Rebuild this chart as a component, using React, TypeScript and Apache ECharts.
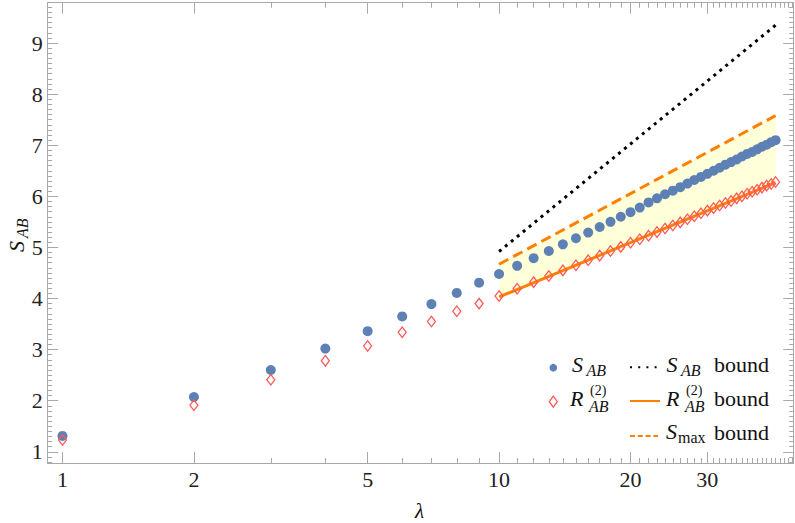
import React, { useEffect, useRef } from "react";
import * as echarts from "echarts";

// ---- data ----
const lambdas = [1, 2, 3, 4, 5, 6, 7, 8, 9, 10, 11, 12, 13, 14, 15, 16, 17, 18, 19, 20, 21, 22, 23, 24, 25, 26, 27, 28, 29, 30, 31, 32, 33, 34, 35, 36, 37, 38, 39, 40, 41, 42, 43];
const sAB = [1.31, 2.07, 2.6, 3.02, 3.36, 3.65, 3.89, 4.11, 4.31,
  4.48, 4.64, 4.79, 4.93, 5.06, 5.18, 5.29, 5.4, 5.5, 5.6, 5.69, 5.78,
  5.88, 5.96, 6.04, 6.11, 6.18,
  6.25, 6.32, 6.38, 6.44, 6.5, 6.56, 6.62, 6.67, 6.72, 6.78, 6.83, 6.87, 6.92, 6.97, 7.01, 7.06, 7.1];
const rAB = [1.23, 1.91, 2.41, 2.78, 3.07, 3.34, 3.55, 3.75, 3.9,
  4.05, 4.19, 4.32, 4.44, 4.55, 4.65, 4.75, 4.84, 4.93, 5.01, 5.09, 5.16,
  5.23, 5.3, 5.37, 5.43, 5.49,
  5.55, 5.61, 5.67, 5.72, 5.77, 5.82, 5.87, 5.91, 5.96, 6.0, 6.05, 6.09, 6.13, 6.17, 6.21, 6.24, 6.28];

const boundLambda = [10, 43];
const sABBound = [4.92, 9.35];
const rABBound = [4.03, 6.27];
const sMaxBound = [4.67, 7.58];

const xMajorTicks = [1, 2, 5, 10, 20, 30];
const xMinorTicks = [3, 4, 6, 7, 8, 9, 11, 12, 13, 14, 15, 16, 17, 18, 19, 21, 22, 23, 24, 25, 26, 27, 28, 29,
  31, 32, 33, 34, 35, 36, 37, 38, 39, 40, 41, 42, 43, 44, 45, 46, 47];
const yMajorTicks = [1, 2, 3, 4, 5, 6, 7, 8, 9];
const yMinorTicks: number[] = [];
for (let i = 8; i <= 97; i++) {
  if (i % 10 !== 0) yMinorTicks.push(i / 10);
}

const X_MIN = 0.925;
const X_MAX = 47.3;
const Y_MIN = 0.78;
const Y_MAX = 9.79;

const FRAME = "#A8A8A8";
const FONT = "'Liberation Serif', 'Times New Roman', serif";
const BLUE = "#5E81B5";
const RED = "#FF5858";
const ORANGE = "#FF8000";
const YELLOW = "#FFFFD9";

const labelStyle = {
  fontSize: 22,
  fontFamily: FONT,
  color: "#222",
};

function xAx(position: string, ticks: number[], len: number, labels: boolean, line: boolean) {
  return {
    type: "log",
    logBase: 10,
    min: X_MIN,
    max: X_MAX,
    position,
    axisLine: { show: line, onZero: false, lineStyle: { color: FRAME, width: 1 } },
    axisTick: { show: true, inside: true, length: len, customValues: ticks, lineStyle: { color: FRAME, width: 1 } },
    axisLabel: labels
      ? { show: true, customValues: ticks, margin: 5, ...labelStyle, formatter: (v: number) => String(Math.round(v)) }
      : { show: false },
    splitLine: { show: false },
    minorTick: { show: false },
    minorSplitLine: { show: false },
  };
}

function yAx(position: string, ticks: number[], len: number, labels: boolean, line: boolean) {
  return {
    type: "value",
    min: Y_MIN,
    max: Y_MAX,
    position,
    axisLine: { show: line, onZero: false, lineStyle: { color: FRAME, width: 1 } },
    axisTick: { show: true, inside: true, length: len, customValues: ticks, lineStyle: { color: FRAME, width: 1 } },
    axisLabel: labels
      ? { show: true, customValues: ticks, margin: 5, ...labelStyle, formatter: (v: number) => String(Math.round(v)) }
      : { show: false },
    splitLine: { show: false },
    minorTick: { show: false },
    minorSplitLine: { show: false },
  };
}

function txt(text: string, x: number, baseline: number, size: number, italic: boolean) {
  return {
    type: "text",
    x,
    y: baseline - 0.34 * size,
    silent: true,
    z: 100,
    style: {
      text,
      fontSize: size,
      fontFamily: FONT,
      fontStyle: italic ? "italic" : "normal",
      fill: "#111",
      textAlign: "left",
      textVerticalAlign: "middle",
      align: "left",
      verticalAlign: "middle",
    },
  };
}

function legendGraphics() {
  const g: any[] = [];
  // column 1
  g.push({ type: "circle", z: 100, shape: { cx: 553.3, cy: 367.7, r: 3.8 }, style: { fill: BLUE }, silent: true });
  g.push(txt("S", 572, 372, 22, true));
  g.push(txt("AB", 586.5, 375.5, 16, true));
  g.push({
    type: "polygon",
    z: 100,
    shape: { points: [[553.3, 396.2], [557.3, 401.7], [553.3, 407.2], [549.3, 401.7]] },
    style: { fill: "none", stroke: RED, lineWidth: 1.3 },
    silent: true,
  });
  g.push(txt("R", 570, 406, 22, true));
  g.push(txt("(2)", 590, 395.5, 14, false));
  g.push(txt("AB", 589, 412, 16, true));
  // column 2
  g.push({ type: "line", z: 100, shape: { x1: 630, y1: 367.3, x2: 658, y2: 367.3 }, style: { stroke: "#000", lineWidth: 2, lineDash: [2, 6.2] }, silent: true });
  g.push(txt("S", 666.5, 372, 22, true));
  g.push(txt("AB", 681, 375.5, 16, true));
  g.push(txt("bound", 714, 371.5, 22, false));
  g.push({ type: "line", z: 100, shape: { x1: 630, y1: 401, x2: 660, y2: 401 }, style: { stroke: ORANGE, lineWidth: 2 }, silent: true });
  g.push(txt("R", 666, 406, 22, true));
  g.push(txt("(2)", 686, 395.5, 14, false));
  g.push(txt("AB", 685, 412, 16, true));
  g.push(txt("bound", 714, 406, 22, false));
  g.push({ type: "line", z: 100, shape: { x1: 630, y1: 436, x2: 658, y2: 436 }, style: { stroke: ORANGE, lineWidth: 2, lineDash: [5, 2.8] }, silent: true });
  g.push(txt("S", 666, 439, 22, true));
  g.push(txt("max", 678, 443, 16, false));
  g.push(txt("bound", 714, 440, 22, false));
  // axis titles
  g.push(txt("λ", 415, 518.5, 21, true));
  g.push({
    type: "group",
    x: 24,
    y: 252,
    rotation: Math.PI / 2,
    silent: true,
    z: 100,
    children: [txt("S", 0, 0, 22, true), txt("AB", 14, 3.5, 16, true)],
  });
  return g;
}

export default function App() {
  const ref = useRef<HTMLDivElement>(null);
  useEffect(() => {
    if (!ref.current) return;
    const chart = echarts.init(ref.current, null, { renderer: "svg" });
    const pts = (xs: number[], ys: number[]) => xs.map((x, i) => [x, ys[i]]);
    chart.setOption({
      animation: false,
      backgroundColor: "#fff",
      textStyle: { fontFamily: FONT, fontSize: 22 },
      grid: { left: 47.7, right: 1.3, top: 2.7, bottom: 60, containLabel: false, outerBoundsMode: "none" },
      xAxis: [
        xAx("bottom", xMajorTicks, 11, true, true),
        xAx("bottom", xMinorTicks, 5, false, false),
        xAx("top", xMajorTicks, 11, false, true),
        xAx("top", xMinorTicks, 5, false, false),
      ],
      yAxis: [
        yAx("left", yMajorTicks, 10.5, true, true),
        yAx("left", yMinorTicks, 4.5, false, false),
        yAx("right", yMajorTicks, 10.5, false, true),
        yAx("right", yMinorTicks, 4.5, false, false),
      ],
      series: [
        {
          type: "custom",
          name: "band",
          data: boundLambda.map((x, i) => [x, rABBound[i], sMaxBound[i]]),
          encode: { x: 0, y: [1, 2] },
          silent: true,
          z: 1,
          renderItem: (params: any, api: any) => {
            if (params.dataIndex !== 0) return null;
            const lower = boundLambda.map((x, i) => api.coord([x, rABBound[i]]));
            const upper = boundLambda.map((x, i) => api.coord([x, sMaxBound[i]])).reverse();
            return {
              type: "polygon",
              shape: { points: [...lower, ...upper] },
              style: { fill: YELLOW },
            };
          },
        },
        {
          type: "line",
          name: "S_AB bound",
          data: pts(boundLambda, sABBound),
          symbol: "none",
          lineStyle: { color: "#000", width: 3, type: [3, 4.7] },
          z: 2,
        },
        {
          type: "line",
          name: "S_max bound",
          data: pts(boundLambda, sMaxBound),
          symbol: "none",
          lineStyle: { color: ORANGE, width: 3, type: [10.5, 5.5] },
          z: 2,
        },
        {
          type: "line",
          name: "R bound",
          data: pts(boundLambda, rABBound),
          symbol: "none",
          lineStyle: { color: ORANGE, width: 3 },
          z: 2,
        },
        {
          type: "scatter",
          name: "S_AB",
          data: pts(lambdas, sAB),
          symbol: "circle",
          symbolSize: 10,
          itemStyle: { color: BLUE, opacity: 1 },
          z: 3,
        },
        {
          type: "scatter",
          name: "R_AB",
          data: pts(lambdas, rAB),
          symbol: "diamond",
          symbolSize: [8, 10.5],
          itemStyle: { color: "rgba(255,255,255,0)", borderColor: RED, borderWidth: 1.3, opacity: 1 },
          z: 4,
        },
      ],
      graphic: legendGraphics(),
    });
    return () => chart.dispose();
  }, []);
  return <div ref={ref} style={{ position: "fixed", left: 0, top: 0, width: 795, height: 523 }} />;
}
